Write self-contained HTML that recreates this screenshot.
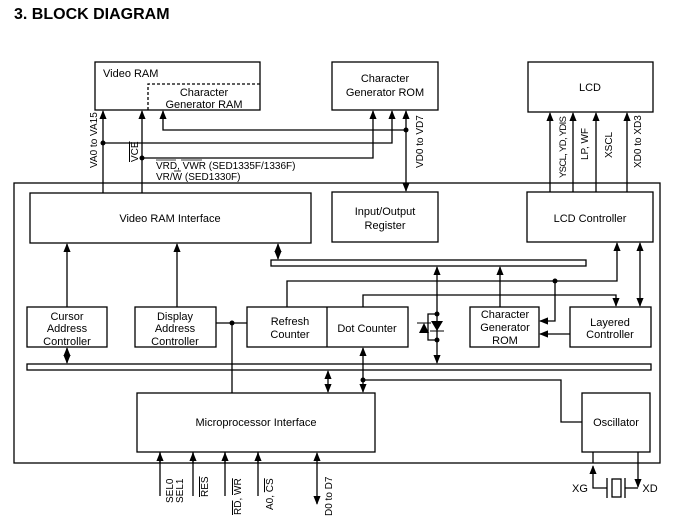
<!DOCTYPE html>
<html><head><style>
body{margin:0;background:#fff;}
svg{display:block;font-family:"Liberation Sans",Arial,sans-serif;}
</style></head><body>
<svg width="674" height="531" viewBox="0 0 674 531" xmlns="http://www.w3.org/2000/svg">
<defs>
<marker id="a" viewBox="0 0 10 10" refX="9" refY="5" markerWidth="7" markerHeight="7" orient="auto-start-reverse"><path d="M0,1 L10,5 L0,9 z" fill="#000"/></marker>
</defs>
<text x="14" y="19" font-size="16" font-weight="bold">3.  BLOCK DIAGRAM</text>
<g fill="none" stroke="#000" stroke-width="1.3">
<rect x="95" y="62" width="165" height="48"/>
<path d="M148,110 V84 H260" stroke-dasharray="3,2"/>
<rect x="332" y="62" width="106" height="48"/>
<rect x="528" y="62" width="125" height="50"/>
<rect x="14" y="183" width="646" height="280"/>
<rect x="30" y="193" width="281" height="50"/>
<rect x="332" y="192" width="106" height="50"/>
<rect x="527" y="192" width="126" height="50"/>
<rect x="271" y="260" width="315" height="6"/>
<rect x="27" y="307" width="80" height="40"/>
<rect x="135" y="307" width="81" height="40"/>
<rect x="247" y="307" width="161" height="40"/>
<line x1="327" y1="307" x2="327" y2="347"/>
<rect x="470" y="307" width="69" height="40"/>
<rect x="570" y="307" width="81" height="40"/>
<rect x="27" y="364" width="624" height="6"/>
<rect x="137" y="393" width="238" height="59"/>
<rect x="582" y="393" width="68" height="59"/>
<line x1="103" y1="193" x2="103" y2="111" marker-end="url(#a)"/>
<path d="M103,143 H392 V111" marker-end="url(#a)"/>
<line x1="142" y1="193" x2="142" y2="111" marker-end="url(#a)"/>
<path d="M142,158 H373 V111" marker-end="url(#a)"/>
<path d="M406,130 H163 V111" marker-end="url(#a)"/>
<line x1="406" y1="111" x2="406" y2="191" marker-start="url(#a)" marker-end="url(#a)"/>
<line x1="550" y1="192" x2="550" y2="113" marker-end="url(#a)"/>
<line x1="573" y1="192" x2="573" y2="113" marker-end="url(#a)"/>
<line x1="596" y1="192" x2="596" y2="113" marker-end="url(#a)"/>
<line x1="627" y1="192" x2="627" y2="113" marker-end="url(#a)"/>
<line x1="67" y1="307" x2="67" y2="244" marker-end="url(#a)"/>
<line x1="177" y1="307" x2="177" y2="244" marker-end="url(#a)"/>
<line x1="278" y1="244" x2="278" y2="259" marker-start="url(#a)" marker-end="url(#a)"/>
<path d="M287,307 V281 H617 V243" marker-end="url(#a)"/>
<path d="M555,281 V321 H540" marker-end="url(#a)"/>
<path d="M363,307 V295 H616 V306" marker-end="url(#a)"/>
<line x1="640" y1="243" x2="640" y2="306" marker-start="url(#a)" marker-end="url(#a)"/>
<line x1="570" y1="334" x2="540" y2="334" marker-end="url(#a)"/>
<line x1="500" y1="307" x2="500" y2="267" marker-end="url(#a)"/>
<line x1="437" y1="267" x2="437" y2="363" marker-start="url(#a)" marker-end="url(#a)"/>
<path d="M437,314 H428 V340 H437"/>
<line x1="67" y1="348" x2="67" y2="363" marker-start="url(#a)" marker-end="url(#a)"/>
<path d="M216,323 H247"/>
<line x1="232" y1="323" x2="232" y2="393"/>
<line x1="328" y1="371" x2="328" y2="392" marker-start="url(#a)" marker-end="url(#a)"/>
<line x1="363" y1="348" x2="363" y2="392" marker-start="url(#a)" marker-end="url(#a)"/>
<path d="M363,380 H561 V422 H582"/>
<line x1="160" y1="496" x2="160" y2="453" marker-end="url(#a)"/>
<line x1="193" y1="496" x2="193" y2="453" marker-end="url(#a)"/>
<line x1="225" y1="496" x2="225" y2="453" marker-end="url(#a)"/>
<line x1="258" y1="496" x2="258" y2="453" marker-end="url(#a)"/>
<line x1="160" y1="452" x2="160" y2="463"/><line x1="193" y1="452" x2="193" y2="463"/><line x1="225" y1="452" x2="225" y2="463"/><line x1="258" y1="452" x2="258" y2="463"/>
<line x1="317" y1="453" x2="317" y2="504" marker-start="url(#a)" marker-end="url(#a)"/>
<path d="M593,452 V463"/>
<path d="M607,488 H593 V466" marker-end="url(#a)"/>
<path d="M638,452 V487" marker-end="url(#a)"/>
<path d="M625,488 H638"/>
<line x1="607" y1="478" x2="607" y2="498"/><line x1="625" y1="478" x2="625" y2="498"/>
<rect x="612" y="479" width="9" height="18"/>
</g>
<path d="M419,333 L429,333 L424,323 z" fill="#000"/><line x1="417" y1="323" x2="431" y2="323" stroke="#000"/>
<path d="M431,321 L443,321 L437,331 z" fill="#000"/><line x1="430" y1="331" x2="444" y2="331" stroke="#000"/>
<g fill="#000">
<circle cx="103" cy="143" r="2.5"/><circle cx="142" cy="158" r="2.5"/><circle cx="406" cy="130" r="2.5"/>
<circle cx="555" cy="281" r="2.5"/><circle cx="232" cy="323" r="2.5"/><circle cx="363" cy="380" r="2.5"/>
<circle cx="437" cy="314" r="2.5"/><circle cx="437" cy="340" r="2.5"/>
</g>
<g font-size="11" text-anchor="middle">
<text x="103" y="77" text-anchor="start">Video RAM</text>
<text x="204" y="96">Character</text><text x="204" y="108">Generator RAM</text>
<text x="385" y="82">Character</text><text x="385" y="96">Generator ROM</text>
<text x="590" y="91">LCD</text>
<text x="170" y="222">Video RAM Interface</text>
<text x="385" y="215">Input/Output</text><text x="385" y="229">Register</text>
<text x="590" y="222">LCD Controller</text>
<text x="67" y="320">Cursor</text><text x="67" y="332">Address</text><text x="67" y="345">Controller</text>
<text x="175" y="320">Display</text><text x="175" y="332">Address</text><text x="175" y="345">Controller</text>
<text x="290" y="325">Refresh</text><text x="290" y="338">Counter</text>
<text x="367" y="332">Dot Counter</text>
<text x="505" y="318">Character</text><text x="505" y="331">Generator</text><text x="505" y="344">ROM</text>
<text x="610" y="326">Layered</text><text x="610" y="338">Controller</text>
<text x="256" y="426">Microprocessor Interface</text>
<text x="616" y="426">Oscillator</text>
<text x="580" y="492">XG</text><text x="650" y="492">XD</text>
</g>
<g font-size="10">
<text x="156" y="169">VRD, VWR (SED1335F/1336F)</text>
<text x="156" y="180">VR/W (SED1330F)</text>
<line x1="156" y1="160" x2="176" y2="160" stroke="#000" stroke-width=".8"/>
<line x1="181" y1="160" x2="202" y2="160" stroke="#000" stroke-width=".8"/>
<line x1="174" y1="171" x2="181" y2="171" stroke="#000" stroke-width=".8"/>
<text transform="translate(97,168) rotate(-90)">VA0 to VA15</text>
<text transform="translate(138,162) rotate(-90)" text-decoration="overline">VCE</text>
<text transform="translate(423,168) rotate(-90)">VD0 to VD7</text>
<text transform="translate(566,178) rotate(-90)" font-size="9.5" textLength="62">YSCL, YD, YDIS</text>
<text transform="translate(588,160) rotate(-90)">LP, WF</text>
<text transform="translate(612,158) rotate(-90)">XSCL</text>
<text transform="translate(641,168) rotate(-90)">XD0 to XD3</text>
<text transform="translate(173,503) rotate(-90)">SEL0</text>
<text transform="translate(183,503) rotate(-90)">SEL1</text>
<text transform="translate(208,497) rotate(-90)" text-decoration="overline">RES</text>
<text transform="translate(241,515) rotate(-90)"><tspan text-decoration="overline">RD</tspan>, <tspan text-decoration="overline">WR</tspan></text>
<text transform="translate(273,510) rotate(-90)">A0, <tspan text-decoration="overline">CS</tspan></text>
<text transform="translate(332,516) rotate(-90)">D0 to D7</text>
</g>
</svg>
</body></html>
